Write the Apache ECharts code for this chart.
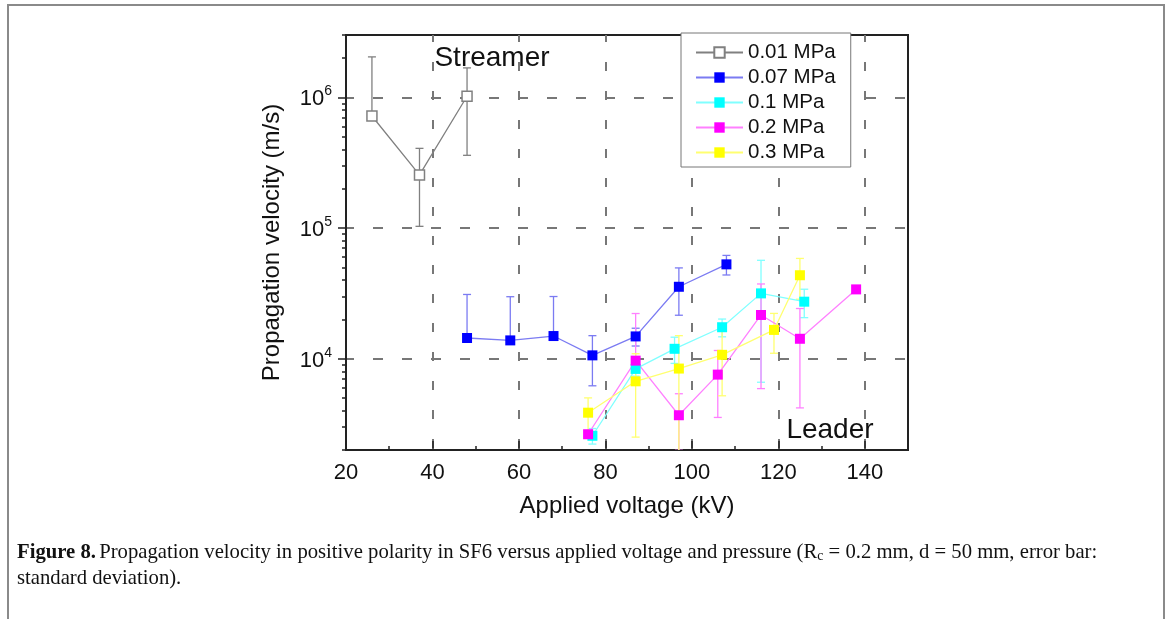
<!DOCTYPE html>
<html>
<head>
<meta charset="utf-8">
<script src="https://cdn.jsdelivr.net/npm/echarts@6/dist/echarts.min.js"></script>
<style>
  html, body { margin: 0; padding: 0; background: #fff; }
  #chart { width: 1170px; height: 619px; }
</style>
</head>
<body>
<div id="chart"></div>
<script>
// 数据：电压 (kV)、速度 (m/s)、标准差
var x001 = [26, 37, 48];
var v001 = [7.2e5, 2.55e5, 1.02e6];
var sd001 = [1.32e6, 1.52e5, 6.6e5];

var x007 = [48, 58, 68, 77, 87, 97, 108];
var v007 = [1.44e4, 1.38e4, 1.49e4, 1.06e4, 1.48e4, 3.55e4, 5.27e4];
var sd007 = [1.66e4, 1.6e4, 1.5e4, 4.4e3, 2.3e3, 1.4e4, 9.0e3];

var x01 = [77, 87, 96, 107, 116, 126];
var v01 = [2.57e3, 8.35e3, 1.19e4, 1.74e4, 3.16e4, 2.73e4];
var sd01 = [3.5e2, 1.0e3, 2.7e3, 2.7e3, 2.5e4, 6.7e3];

var x02 = [76, 87, 97, 106, 116, 125, 138];
var v02 = [2.64e3, 9.66e3, 3.69e3, 7.55e3, 2.16e4, 1.42e4, 3.39e4];
var sd02 = [1.5e2, 1.25e4, 1.7e3, 4.0e3, 1.57e4, 1.0e4, 1.0e3];

var x03 = [76, 87, 97, 107, 119, 125];
var v03 = [3.86e3, 6.71e3, 8.4e3, 1.07e4, 1.66e4, 4.35e4];
var sd03 = [1.15e3, 4.2e3, 6.6e3, 5.5e3, 5.6e3, 1.5e4];

var seriesNames = ['0.01 MPa', '0.07 MPa', '0.1 MPa', '0.2 MPa', '0.3 MPa'];

var xTicks = [20, 40, 60, 80, 100, 120, 140];
var yMajor = [1e4, 1e5, 1e6];
var yMinor = [2e3, 3e3, 4e3, 5e3, 6e3, 7e3, 8e3, 9e3,
              2e4, 3e4, 4e4, 5e4, 6e4, 7e4, 8e4, 9e4,
              2e5, 3e5, 4e5, 5e5, 6e5, 7e5, 8e5, 9e5,
              2e6, 3e6];

var FONT = 'Liberation Sans, Arial, sans-serif';
var SERIF = 'Liberation Serif, serif';

function lineSeries(name, xs, vs, mark, line, hollow) {
    return {
        name: name,
        type: 'line',
        z: 3,
        data: xs.map(function (x, i) { return [x, vs[i]]; }),
        symbol: 'rect',
        symbolSize: 10,
        itemStyle: hollow
            ? { color: '#fff', borderColor: mark, borderWidth: 1.5 }
            : { color: mark, borderWidth: 0 },
        lineStyle: { color: line, width: 1.3 },
        emphasis: { disabled: true }
    };
}

//误差棒
function errSeries(xs, vs, sds, color) {
    return {
        type: 'custom',
        z: 2,
        silent: true,
        clip: true,
        data: xs.map(function (x, i) { return [x, vs[i], sds[i]]; }),
        encode: { x: 0, y: 1 },
        renderItem: function (params, api) {
            var x = api.value(0), v = api.value(1), s = api.value(2);
            var mid = api.coord([x, v]);
            var hi = api.coord([x, v + s]);
            var st = { stroke: color, lineWidth: 1.3 };
            var w = 4;
            var children = [
                { type: 'line', shape: { x1: mid[0], y1: mid[1], x2: hi[0], y2: hi[1] }, style: st },
                { type: 'line', shape: { x1: hi[0] - w, y1: hi[1], x2: hi[0] + w, y2: hi[1] }, style: st }
            ];
            if (v - s > 0) {
                var lo = api.coord([x, v - s]);
                children.push({ type: 'line', shape: { x1: mid[0], y1: mid[1], x2: lo[0], y2: lo[1] }, style: st });
                children.push({ type: 'line', shape: { x1: lo[0] - w, y1: lo[1], x2: lo[0] + w, y2: lo[1] }, style: st });
            }
            return { type: 'group', children: children };
        }
    };
}

var chart = echarts.init(document.getElementById('chart'), null, { renderer: 'canvas' });

var option = {
    backgroundColor: '#fff',
    animation: false,
    grid: {
        left: 346, right: 262, top: 35, bottom: 169,
        show: true, borderColor: '#222', borderWidth: 2, backgroundColor: 'transparent'
    },
    legend: {
        data: seriesNames,
        orient: 'vertical',
        left: 681, top: 33,
        padding: [9, 15, 4, 14],
        itemWidth: 47,
        itemHeight: 13,
        itemGap: 4,
        borderColor: '#777',
        borderWidth: 1,
        backgroundColor: '#fff',
        textStyle: { fontFamily: FONT, fontSize: 20.5, color: '#111' },
        z: 10
    },
    xAxis: {
        type: 'value',
        min: 20, max: 150, interval: 20,
        name: 'Applied voltage (kV)',
        nameLocation: 'middle',
        nameGap: 44,
        nameTextStyle: { fontFamily: FONT, fontSize: 24, color: '#111' },
        axisLine: { show: true, onZero: false, lineStyle: { color: '#222', width: 2 } },
        axisTick: { show: true, inside: true, length: 9, customValues: xTicks, lineStyle: { color: '#222', width: 1.5 } },
        minorTick: { show: true, splitNumber: 2, length: 4, lineStyle: { color: '#222', width: 1.5 } },
        axisLabel: {
            customValues: xTicks,
            margin: 12,
            fontFamily: FONT, fontSize: 22, color: '#111'
        },
        splitLine: { show: true, lineStyle: { color: '#777', width: 2, type: [9, 20], dashOffset: 2 } }
    },
    yAxis: [{
        type: 'log',
        logBase: 10,
        min: 2000, max: 3e6,
        name: 'Propagation velocity (m/s)',
        nameLocation: 'middle',
        nameRotate: 90,
        nameGap: 62,
        nameTextStyle: { fontFamily: FONT, fontSize: 24, color: '#111' },
        axisLine: { show: true, lineStyle: { color: '#222', width: 2 } },
        axisTick: { show: true, length: 8, customValues: yMajor, lineStyle: { color: '#222', width: 1.5 } },
        axisLabel: {
            customValues: yMajor,
            margin: 14,
            formatter: function (val) {
                var p = Math.round(Math.log10(val));
                return '{b|10}{s|' + p + '}';
            },
            rich: {
                b: { fontFamily: FONT, fontSize: 22, color: '#111', lineHeight: 26, verticalAlign: 'bottom' },
                s: { fontFamily: FONT, fontSize: 14, color: '#111', lineHeight: 14, verticalAlign: 'top' }
            }
        },
        splitLine: { show: true, lineStyle: { color: '#777', width: 2, type: [10, 19], dashOffset: 2 } }
    }, {
        type: 'log',
        logBase: 10,
        min: 2000, max: 3e6,
        position: 'left',
        axisLine: { show: false },
        axisTick: { show: true, length: 4, customValues: yMinor, lineStyle: { color: '#222', width: 1.5 } },
        axisLabel: { show: false },
        splitLine: { show: false }
    }],
    graphic: [
        {
            type: 'rect', silent: true, z: -1,
            shape: { x: 8, y: 5, width: 1156, height: 700 },
            style: { fill: null, stroke: '#8a8a8a', lineWidth: 2 }
        },
        {
            type: 'text', x: 492, y: 58, z: 20,
            style: { text: 'Streamer', font: '28px ' + FONT, fill: '#111', align: 'center', verticalAlign: 'middle' }
        },
        {
            type: 'text', x: 830, y: 430, z: 20,
            style: { text: 'Leader', font: '28px ' + FONT, fill: '#111', align: 'center', verticalAlign: 'middle' }
        },
        {
            type: 'text', x: 17, y: 551, scaleX: 0.985,
            style: {
                text: '{b|Figure 8.} {n|Propagation velocity in positive polarity in SF6 versus applied voltage and pressure (R}{sub|c}{n| = 0.2 mm, d = 50 mm, error bar:}',
                verticalAlign: 'middle',
                rich: {
                    b: { font: 'bold 21px ' + SERIF, fill: '#111', lineHeight: 24, verticalAlign: 'bottom' },
                    n: { font: '21px ' + SERIF, fill: '#111', lineHeight: 24, verticalAlign: 'bottom' },
                    sub: { font: '14px ' + SERIF, fill: '#111', lineHeight: 13, verticalAlign: 'bottom' }
                }
            }
        },
        {
            type: 'text', x: 17, y: 578, scaleX: 0.985,
            style: { text: 'standard deviation).', font: '21px ' + SERIF, fill: '#111', verticalAlign: 'middle' }
        }
    ],
    series: [
        errSeries(x001, v001, sd001, '#808080'),
        errSeries(x007, v007, sd007, '#7b7bf2'),
        errSeries(x01, v01, sd01, '#80ffff'),
        errSeries(x02, v02, sd02, '#ff80ff'),
        errSeries(x03, v03, sd03, '#ffff70'),
        lineSeries(seriesNames[0], x001, v001, '#808080', '#808080', true),
        lineSeries(seriesNames[1], x007, v007, '#0000ff', '#7b7bf2'),
        lineSeries(seriesNames[2], x01, v01, '#00ffff', '#80ffff'),
        lineSeries(seriesNames[3], x02, v02, '#ff00ff', '#ff80ff'),
        lineSeries(seriesNames[4], x03, v03, '#ffff00', '#ffff70')
    ]
};

chart.setOption(option);
</script>
</body>
</html>
